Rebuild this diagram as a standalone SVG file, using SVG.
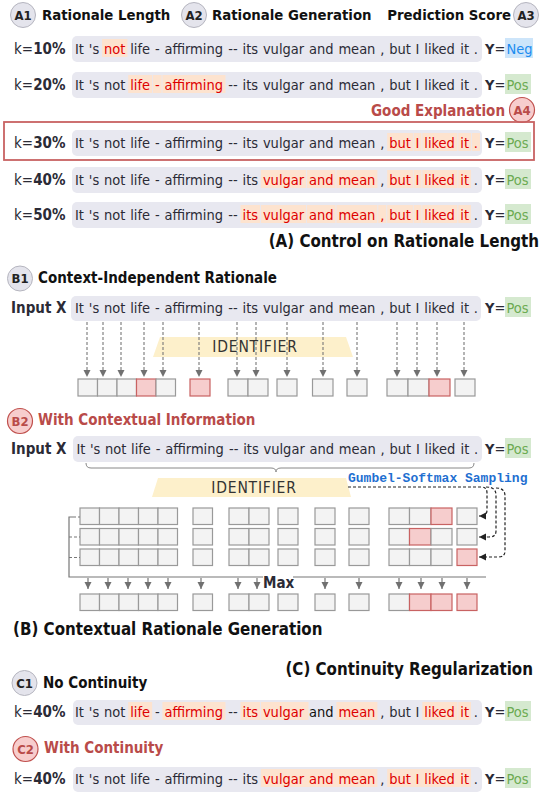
<svg xmlns="http://www.w3.org/2000/svg" width="551" height="796" viewBox="0 0 551 796">
<defs>
<style>
.f{font-family:'DejaVu Sans Condensed','DejaVu Sans',sans-serif;font-stretch:condensed}
.s{font-size:14.5px;fill:#2b2b36}
.k{font-size:15px;fill:#2b2b36}
.b{font-weight:bold}
.h{font-size:14.8px;font-weight:bold;fill:#111}
.ti{font-size:16.8px;font-weight:bold;fill:#111}
.red{fill:#b94b49}
.bx{fill:#e8e8f0}
.hl{fill:#fde3cf}
.rw{fill:#dd0000}
.pos{fill:#6cab52}
.posbg{fill:#d5e9cf}
.negbg{fill:#cde5fa}
.neg{fill:#1c8cf0}
.cg{fill:#e4e4ec;stroke:#b5b5bf;stroke-width:1}
.cp{fill:#f7cdcd;stroke:#c0504d;stroke-width:1.2}
.ct{font-size:13px;font-weight:bold;fill:#222;text-anchor:middle}
.ctr{font-size:13px;font-weight:bold;fill:#b94b49;text-anchor:middle}
.c{fill:#f3f3f3;stroke:#999;stroke-width:1.2}
.p{fill:#f6cdcd;stroke:#c86262;stroke-width:1.2}
.id{fill:#fdf0cb}
.idt{font-size:15.5px;fill:#333;letter-spacing:0.8px;text-anchor:middle}
.dg{fill:none;stroke:#777;stroke-width:1.1;stroke-dasharray:3 2}
.dk{fill:none;stroke:#222;stroke-width:1.2;stroke-dasharray:3 2}
.gl{fill:none;stroke:#777;stroke-width:1.2}
.gm{font-family:'Liberation Mono','DejaVu Sans Mono',monospace;font-weight:bold;font-size:13px;fill:#1f6fd1}
</style>
<marker id="ag" markerUnits="userSpaceOnUse" markerWidth="8" markerHeight="8" refX="7" refY="3.5" orient="auto"><path d="M0,0L7,3.5L0,7z" fill="#707070"/></marker>
<marker id="ak" markerUnits="userSpaceOnUse" markerWidth="8" markerHeight="8" refX="7" refY="3.5" orient="auto"><path d="M0,0L7,3.5L0,7z" fill="#222"/></marker>
</defs>
<rect width="551" height="796" fill="#fff"/>

<!-- Section A header -->
<g id="A1"><circle class="cg" cx="23" cy="15" r="12.5"/><text class="f ct" x="23" y="19.7">A1</text><text class="f h" x="42" y="20">Rationale Length</text></g>
<g id="A2"><circle class="cg" cx="194" cy="15" r="12.5"/><text class="f ct" x="194" y="19.7">A2</text><text class="f h" x="212" y="20">Rationale Generation</text></g>
<g id="A3"><circle class="cg" cx="526" cy="15" r="12.5"/><text class="f ct" x="526" y="19.7">A3</text><text class="f h" x="511" y="20" text-anchor="end">Prediction Score</text></g>

<g id="row-k10">
<text class="f k" x="14" y="54">k=<tspan class="b">10%</tspan></text>
<rect class="bx" x="72" y="36" width="410" height="26" rx="5"/>
<rect class="hl" x="102" y="39" width="25.4" height="18"/>
<text class="f s" y="54"><tspan x="75">It</tspan><tspan x="88.8">'s</tspan><tspan x="104" class="rw">not</tspan><tspan x="130.2">life</tspan><tspan x="154.9">-</tspan><tspan x="164.4">affirming</tspan><tspan x="228.3">--</tspan><tspan x="242.5">its</tspan><tspan x="262.9">vulgar</tspan><tspan x="309">and</tspan><tspan x="338.4">mean</tspan><tspan x="380.2">,</tspan><tspan x="389.2">but</tspan><tspan x="415.6">I</tspan><tspan x="424.3">liked</tspan><tspan x="460.3">it</tspan><tspan x="473.8">.</tspan></text>
<text class="f s" x="485" y="54"><tspan class="b">Y</tspan>=</text><rect class="negbg" x="505" y="38" width="28" height="20"/><text class="f s neg" x="506.5" y="54">Neg</text>
</g>

<g id="row-k20">
<text class="f k" x="14" y="90">k=<tspan class="b">20%</tspan></text>
<rect class="bx" x="72" y="72" width="410" height="26" rx="5"/>
<rect class="hl" x="128.2" y="75" width="23.9" height="18"/><rect class="hl" x="152.9" y="75" width="8.7" height="18"/><rect class="hl" x="162.4" y="75" width="63.1" height="18"/>
<text class="f s" y="90"><tspan x="75">It</tspan><tspan x="88.8">'s</tspan><tspan x="104">not</tspan><tspan x="130.2" class="rw">life</tspan><tspan x="154.9" class="rw">-</tspan><tspan x="164.4" class="rw">affirming</tspan><tspan x="228.3">--</tspan><tspan x="242.5">its</tspan><tspan x="262.9">vulgar</tspan><tspan x="309">and</tspan><tspan x="338.4">mean</tspan><tspan x="380.2">,</tspan><tspan x="389.2">but</tspan><tspan x="415.6">I</tspan><tspan x="424.3">liked</tspan><tspan x="460.3">it</tspan><tspan x="473.8">.</tspan></text>
<text class="f s" x="485" y="90"><tspan class="b">Y</tspan>=</text><rect class="posbg" x="505" y="74" width="26" height="20"/><text class="f s pos" x="506.5" y="90">Pos</text>
</g>

<g id="A4">
<text class="f b red" x="505" y="116" text-anchor="end" style="font-size:15px">Good Explanation</text>
<circle class="cp" cx="522" cy="110" r="12.5"/><text class="f ctr" x="522" y="114.7">A4</text>
<rect x="4" y="122" width="530" height="38" fill="none" stroke="#c86262" stroke-width="1.8"/>
</g>

<g id="row-k30">
<text class="f k" x="14" y="148">k=<tspan class="b">30%</tspan></text>
<rect class="bx" x="72" y="130" width="410" height="26" rx="5"/>
<rect class="hl" x="387.2" y="133" width="25.7" height="18"/><rect class="hl" x="413.6" y="133" width="7.9" height="18"/><rect class="hl" x="422.3" y="133" width="35.1" height="18"/><rect class="hl" x="458.3" y="133" width="12.7" height="18"/><rect class="hl" x="471.8" y="133" width="8.2" height="18"/>
<text class="f s" y="148"><tspan x="75">It</tspan><tspan x="88.8">'s</tspan><tspan x="104">not</tspan><tspan x="130.2">life</tspan><tspan x="154.9">-</tspan><tspan x="164.4">affirming</tspan><tspan x="228.3">--</tspan><tspan x="242.5">its</tspan><tspan x="262.9">vulgar</tspan><tspan x="309">and</tspan><tspan x="338.4">mean</tspan><tspan x="380.2">,</tspan><tspan x="389.2" class="rw">but</tspan><tspan x="415.6" class="rw">I</tspan><tspan x="424.3" class="rw">liked</tspan><tspan x="460.3" class="rw">it</tspan><tspan x="473.8" class="rw">.</tspan></text>
<text class="f s" x="485" y="148"><tspan class="b">Y</tspan>=</text><rect class="posbg" x="505" y="132" width="26" height="20"/><text class="f s pos" x="506.5" y="148">Pos</text>
</g>

<g id="row-k40">
<text class="f k" x="14" y="185">k=<tspan class="b">40%</tspan></text>
<rect class="bx" x="72" y="167" width="410" height="26" rx="5"/>
<rect class="hl" x="260.9" y="170" width="45.3" height="18"/><rect class="hl" x="307" y="170" width="28.5" height="18"/><rect class="hl" x="336.4" y="170" width="41" height="18"/><rect class="hl" x="387.2" y="170" width="25.7" height="18"/><rect class="hl" x="413.6" y="170" width="7.9" height="18"/><rect class="hl" x="422.3" y="170" width="35.1" height="18"/><rect class="hl" x="458.3" y="170" width="12.7" height="18"/>
<text class="f s" y="185"><tspan x="75">It</tspan><tspan x="88.8">'s</tspan><tspan x="104">not</tspan><tspan x="130.2">life</tspan><tspan x="154.9">-</tspan><tspan x="164.4">affirming</tspan><tspan x="228.3">--</tspan><tspan x="242.5">its</tspan><tspan x="262.9" class="rw">vulgar</tspan><tspan x="309" class="rw">and</tspan><tspan x="338.4" class="rw">mean</tspan><tspan x="380.2">,</tspan><tspan x="389.2" class="rw">but</tspan><tspan x="415.6" class="rw">I</tspan><tspan x="424.3" class="rw">liked</tspan><tspan x="460.3" class="rw">it</tspan><tspan x="473.8">.</tspan></text>
<text class="f s" x="485" y="185"><tspan class="b">Y</tspan>=</text><rect class="posbg" x="505" y="169" width="26" height="20"/><text class="f s pos" x="506.5" y="185">Pos</text>
</g>

<g id="row-k50">
<text class="f k" x="14" y="220">k=<tspan class="b">50%</tspan></text>
<rect class="bx" x="72" y="202" width="410" height="26" rx="5"/>
<rect class="hl" x="240.5" y="205" width="19.5" height="18"/><rect class="hl" x="260.9" y="205" width="45.3" height="18"/><rect class="hl" x="307" y="205" width="28.5" height="18"/><rect class="hl" x="336.4" y="205" width="41" height="18"/><rect class="hl" x="378.2" y="205" width="8.1" height="18"/><rect class="hl" x="387.2" y="205" width="25.7" height="18"/><rect class="hl" x="413.6" y="205" width="7.9" height="18"/><rect class="hl" x="422.3" y="205" width="35.1" height="18"/><rect class="hl" x="458.3" y="205" width="12.7" height="18"/>
<text class="f s" y="220"><tspan x="75">It</tspan><tspan x="88.8">'s</tspan><tspan x="104">not</tspan><tspan x="130.2">life</tspan><tspan x="154.9">-</tspan><tspan x="164.4">affirming</tspan><tspan x="228.3">--</tspan><tspan x="242.5" class="rw">its</tspan><tspan x="262.9" class="rw">vulgar</tspan><tspan x="309" class="rw">and</tspan><tspan x="338.4" class="rw">mean</tspan><tspan x="380.2" class="rw">,</tspan><tspan x="389.2" class="rw">but</tspan><tspan x="415.6" class="rw">I</tspan><tspan x="424.3" class="rw">liked</tspan><tspan x="460.3" class="rw">it</tspan><tspan x="473.8">.</tspan></text>
<text class="f s" x="485" y="220"><tspan class="b">Y</tspan>=</text><rect class="posbg" x="505" y="204" width="26" height="20"/><text class="f s pos" x="506.5" y="220">Pos</text>
</g>

<text id="titleA" class="f ti" x="539" y="247" text-anchor="end">(A) Control on Rationale Length</text>

<!-- Section B1 -->
<g id="B1"><circle class="cg" cx="20" cy="278.5" r="12.5"/><text class="f ct" x="20" y="283.2">B1</text><text class="f h" x="38" y="283" style="font-size:15px">Context-Independent Rationale</text></g>

<g id="B1-input">
<text class="f b k" x="11" y="313">Input X</text>
<rect class="bx" x="71" y="296" width="410" height="25" rx="5"/>
<text class="f s" y="313"><tspan x="75">It</tspan><tspan x="88.8">'s</tspan><tspan x="104">not</tspan><tspan x="130.2">life</tspan><tspan x="154.9">-</tspan><tspan x="164.4">affirming</tspan><tspan x="228.3">--</tspan><tspan x="242.5">its</tspan><tspan x="262.9">vulgar</tspan><tspan x="309">and</tspan><tspan x="338.4">mean</tspan><tspan x="380.2">,</tspan><tspan x="389.2">but</tspan><tspan x="415.6">I</tspan><tspan x="424.3">liked</tspan><tspan x="460.3">it</tspan><tspan x="473.8">.</tspan></text>
<text class="f s" x="485" y="313"><tspan class="b">Y</tspan>=</text><rect class="posbg" x="505" y="297" width="26" height="20"/><text class="f s pos" x="506.5" y="313">Pos</text>
</g>

<g id="B1-identifier"><polygon class="id" points="160,337 346,337 353,357 153,357"/><text class="f idt" x="255" y="352">IDENTIFIER</text></g>

<g id="B1-mask">
<rect class="c" x="78" y="379" width="19.5" height="17"/><rect class="c" x="97.5" y="379" width="19.5" height="17"/><rect class="c" x="117" y="379" width="19.5" height="17"/><rect class="p" x="136.5" y="379" width="19.5" height="17"/><rect class="c" x="156" y="379" width="19.5" height="17"/>
<rect class="p" x="190" y="379" width="20" height="17"/>
<rect class="c" x="228" y="379" width="20" height="17"/><rect class="c" x="248" y="379" width="20" height="17"/>
<rect class="c" x="277" y="379" width="20" height="17"/>
<rect class="c" x="312.5" y="379" width="20.5" height="17"/>
<rect class="c" x="347" y="379" width="20" height="17"/>
<rect class="c" x="387" y="379" width="21" height="17"/><rect class="c" x="408" y="379" width="21" height="17"/><rect class="p" x="429" y="379" width="21" height="17"/>
<rect class="c" x="455" y="379" width="20" height="17"/>
</g>

<!-- Section B2 -->
<g id="B2"><circle class="cp" cx="20" cy="421" r="12.5"/><text class="f ctr" x="20" y="425.7">B2</text><text class="f h red" x="38" y="425" style="font-size:15px">With Contextual Information</text></g>

<g id="B2-input">
<text class="f b k" x="11" y="454">Input X</text>
<rect class="bx" x="73" y="436" width="409" height="26" rx="5"/>
<text class="f s" y="454"><tspan x="76.5">It</tspan><tspan x="90">'s</tspan><tspan x="105">not</tspan><tspan x="131">life</tspan><tspan x="155.7">-</tspan><tspan x="165.2">affirming</tspan><tspan x="229">--</tspan><tspan x="243.2">its</tspan><tspan x="263.5">vulgar</tspan><tspan x="309.5">and</tspan><tspan x="338.8">mean</tspan><tspan x="380.6">,</tspan><tspan x="389.5">but</tspan><tspan x="415.9">I</tspan><tspan x="424.6">liked</tspan><tspan x="460.5">it</tspan><tspan x="474">.</tspan></text>
<text class="f s" x="485" y="454"><tspan class="b">Y</tspan>=</text><rect class="posbg" x="505" y="438" width="26" height="20"/><text class="f s pos" x="506.5" y="454">Pos</text>
</g>

<g id="B2-identifier"><polygon class="id" points="158,478 346,478 351,497 152,497"/><text class="f idt" x="254" y="493">IDENTIFIER</text></g>
<text id="gumbel" class="gm" x="348" y="482">Gumbel-Softmax Sampling</text>

<g id="B2-sample1">
<rect class="c" x="80" y="508" width="19.5" height="16.5"/><rect class="c" x="99.5" y="508" width="19.5" height="16.5"/><rect class="c" x="119" y="508" width="19.5" height="16.5"/><rect class="c" x="138.5" y="508" width="19.5" height="16.5"/><rect class="c" x="158" y="508" width="19.5" height="16.5"/>
<rect class="c" x="193" y="508" width="19.5" height="16.5"/><rect class="c" x="229" y="508" width="20" height="16.5"/><rect class="c" x="249" y="508" width="20" height="16.5"/><rect class="c" x="278" y="508" width="20" height="16.5"/><rect class="c" x="315" y="508" width="20" height="16.5"/><rect class="c" x="349" y="508" width="20" height="16.5"/>
<rect class="c" x="389" y="508" width="20.5" height="16.5"/><rect class="c" x="409.5" y="508" width="21.5" height="16.5"/><rect class="p" x="431" y="508" width="21" height="16.5"/><rect class="c" x="457" y="508" width="20" height="16.5"/>
</g>
<g id="B2-sample2">
<rect class="c" x="80" y="528.5" width="19.5" height="16.5"/><rect class="c" x="99.5" y="528.5" width="19.5" height="16.5"/><rect class="c" x="119" y="528.5" width="19.5" height="16.5"/><rect class="c" x="138.5" y="528.5" width="19.5" height="16.5"/><rect class="c" x="158" y="528.5" width="19.5" height="16.5"/>
<rect class="c" x="193" y="528.5" width="19.5" height="16.5"/><rect class="c" x="229" y="528.5" width="20" height="16.5"/><rect class="c" x="249" y="528.5" width="20" height="16.5"/><rect class="c" x="278" y="528.5" width="20" height="16.5"/><rect class="c" x="315" y="528.5" width="20" height="16.5"/><rect class="c" x="349" y="528.5" width="20" height="16.5"/>
<rect class="c" x="389" y="528.5" width="20.5" height="16.5"/><rect class="p" x="409.5" y="528.5" width="21.5" height="16.5"/><rect class="c" x="431" y="528.5" width="21" height="16.5"/><rect class="c" x="457" y="528.5" width="20" height="16.5"/>
</g>
<g id="B2-sample3">
<rect class="c" x="80" y="549" width="19.5" height="16.5"/><rect class="c" x="99.5" y="549" width="19.5" height="16.5"/><rect class="c" x="119" y="549" width="19.5" height="16.5"/><rect class="c" x="138.5" y="549" width="19.5" height="16.5"/><rect class="c" x="158" y="549" width="19.5" height="16.5"/>
<rect class="c" x="193" y="549" width="19.5" height="16.5"/><rect class="c" x="229" y="549" width="20" height="16.5"/><rect class="c" x="249" y="549" width="20" height="16.5"/><rect class="c" x="278" y="549" width="20" height="16.5"/><rect class="c" x="315" y="549" width="20" height="16.5"/><rect class="c" x="349" y="549" width="20" height="16.5"/>
<rect class="c" x="389" y="549" width="20.5" height="16.5"/><rect class="c" x="409.5" y="549" width="21.5" height="16.5"/><rect class="c" x="431" y="549" width="21" height="16.5"/><rect class="p" x="457" y="549" width="20" height="16.5"/>
</g>
<text id="max" class="f b k" x="263" y="588">Max</text>
<g id="B2-output">
<rect class="c" x="80" y="594" width="19.5" height="16.5"/><rect class="c" x="99.5" y="594" width="19.5" height="16.5"/><rect class="c" x="119" y="594" width="19.5" height="16.5"/><rect class="c" x="138.5" y="594" width="19.5" height="16.5"/><rect class="c" x="158" y="594" width="19.5" height="16.5"/>
<rect class="c" x="193" y="594" width="19.5" height="16.5"/><rect class="c" x="229" y="594" width="20" height="16.5"/><rect class="c" x="249" y="594" width="20" height="16.5"/><rect class="c" x="278" y="594" width="20" height="16.5"/><rect class="c" x="315" y="594" width="20" height="16.5"/><rect class="c" x="349" y="594" width="20" height="16.5"/>
<rect class="c" x="389" y="594" width="20.5" height="16.5"/><rect class="p" x="409.5" y="594" width="21.5" height="16.5"/><rect class="p" x="431" y="594" width="21" height="16.5"/><rect class="p" x="457" y="594" width="20" height="16.5"/>
</g>

<text id="titleB" class="f ti" x="13" y="635">(B) Contextual Rationale Generation</text>

<!-- connectors -->
<g id="connectors">
<g id="b1-arrows">
<path class="dg" d="M87,322V377" marker-end="url(#ag)"/><path class="dg" d="M103,322V377" marker-end="url(#ag)"/><path class="dg" d="M121,322V377" marker-end="url(#ag)"/><path class="dg" d="M144,322V377" marker-end="url(#ag)"/><path class="dg" d="M163,322V377" marker-end="url(#ag)"/><path class="dg" d="M199,322V377" marker-end="url(#ag)"/><path class="dg" d="M237,322V377" marker-end="url(#ag)"/><path class="dg" d="M256,322V377" marker-end="url(#ag)"/><path class="dg" d="M287,322V377" marker-end="url(#ag)"/><path class="dg" d="M323,322V377" marker-end="url(#ag)"/><path class="dg" d="M357,322V377" marker-end="url(#ag)"/><path class="dg" d="M397,322V377" marker-end="url(#ag)"/><path class="dg" d="M417,322V377" marker-end="url(#ag)"/><path class="dg" d="M437,322V377" marker-end="url(#ag)"/><path class="dg" d="M464,322V377" marker-end="url(#ag)"/>
</g>
<path id="brace" d="M86,463Q86,468 91,468H271Q276,468 276,472Q276,468 281,468H469Q474,468 474,463" fill="none" stroke="#888" stroke-width="1"/>
<g id="gumbel-arrows">
<path class="dk" d="M348,487H481Q487,487 487,493V510Q487,516 481,516H479" marker-end="url(#ak)"/>
<path class="dk" d="M486,487Q496,487 496,495V531Q496,537 489,537H479" marker-end="url(#ak)"/>
<path class="dk" d="M496,488Q505,488 505,496V551Q505,557 498,557H479" marker-end="url(#ak)"/>
</g>
<g id="max-bracket">
<path class="gl" d="M73,517H69V577H263"/><path class="gl" d="M293,577H486"/>
<path class="dg" d="M73,517H80M69,537H80M69,557.5H80"/>
</g>
<g id="max-arrows">
<path class="gl" d="M88,578V589" marker-end="url(#ag)"/><path class="gl" d="M108,578V589" marker-end="url(#ag)"/><path class="gl" d="M128,578V589" marker-end="url(#ag)"/><path class="gl" d="M148,578V589" marker-end="url(#ag)"/><path class="gl" d="M168,578V589" marker-end="url(#ag)"/><path class="gl" d="M201,578V589" marker-end="url(#ag)"/><path class="gl" d="M238,578V589" marker-end="url(#ag)"/><path class="gl" d="M257,578V589" marker-end="url(#ag)"/><path class="gl" d="M325,578V589" marker-end="url(#ag)"/><path class="gl" d="M359,578V589" marker-end="url(#ag)"/><path class="gl" d="M399,578V589" marker-end="url(#ag)"/><path class="gl" d="M421,578V589" marker-end="url(#ag)"/><path class="gl" d="M442,578V589" marker-end="url(#ag)"/><path class="gl" d="M467,578V589" marker-end="url(#ag)"/>
</g>
</g>

<!-- Section C -->
<text id="titleC" class="f ti" x="533" y="675" text-anchor="end">(C) Continuity Regularization</text>
<g id="C1"><circle class="cg" cx="24.5" cy="683" r="12.5"/><text class="f ct" x="24.5" y="687.7">C1</text><text class="f h" x="43" y="688" style="font-size:15px">No Continuity</text></g>

<g id="row-c1">
<text class="f k" x="14" y="717">k=<tspan class="b">40%</tspan></text>
<rect class="bx" x="73" y="700" width="409" height="25" rx="5"/>
<rect class="hl" x="128.2" y="702" width="23.9" height="18"/><rect class="hl" x="162.4" y="702" width="63.1" height="18"/><rect class="hl" x="240.5" y="702" width="19.5" height="18"/><rect class="hl" x="260.9" y="702" width="47.6" height="18"/><rect class="hl" x="336.4" y="702" width="41" height="18"/><rect class="hl" x="422.3" y="702" width="35.1" height="18"/><rect class="hl" x="458.3" y="702" width="12.7" height="18"/>
<text class="f s" y="717"><tspan x="75">It</tspan><tspan x="88.8">'s</tspan><tspan x="104">not</tspan><tspan x="130.2" class="rw">life</tspan><tspan x="154.9">-</tspan><tspan x="164.4" class="rw">affirming</tspan><tspan x="228.3">--</tspan><tspan x="242.5" class="rw">its</tspan><tspan x="262.9" class="rw">vulgar</tspan><tspan x="309" style="fill:#111">and</tspan><tspan x="338.4" class="rw">mean</tspan><tspan x="380.2">,</tspan><tspan x="389.2">but</tspan><tspan x="415.6">I</tspan><tspan x="424.3" class="rw">liked</tspan><tspan x="460.3" class="rw">it</tspan><tspan x="473.8">.</tspan></text>
<text class="f s" x="485" y="717"><tspan class="b">Y</tspan>=</text><rect class="posbg" x="505" y="701" width="26" height="20"/><text class="f s pos" x="506.5" y="717">Pos</text>
</g>

<g id="C2"><circle class="cp" cx="25.5" cy="749" r="12.5"/><text class="f ctr" x="25.5" y="753.7">C2</text><text class="f h red" x="44" y="753" style="font-size:15px">With Continuity</text></g>

<g id="row-c2">
<text class="f k" x="14" y="784">k=<tspan class="b">40%</tspan></text>
<rect class="bx" x="73" y="767" width="409" height="25" rx="5"/>
<rect class="hl" x="260.9" y="769" width="116.5" height="18"/><rect class="hl" x="387.2" y="769" width="83.8" height="18"/>
<text class="f s" y="784"><tspan x="75">It</tspan><tspan x="88.8">'s</tspan><tspan x="104">not</tspan><tspan x="130.2">life</tspan><tspan x="154.9">-</tspan><tspan x="164.4">affirming</tspan><tspan x="228.3">--</tspan><tspan x="242.5">its</tspan><tspan x="262.9" class="rw">vulgar</tspan><tspan x="309" class="rw">and</tspan><tspan x="338.4" class="rw">mean</tspan><tspan x="380.2">,</tspan><tspan x="389.2" class="rw">but</tspan><tspan x="415.6" class="rw">I</tspan><tspan x="424.3" class="rw">liked</tspan><tspan x="460.3" class="rw">it</tspan><tspan x="473.8">.</tspan></text>
<text class="f s" x="485" y="784"><tspan class="b">Y</tspan>=</text><rect class="posbg" x="505" y="768" width="26" height="20"/><text class="f s pos" x="506.5" y="784">Pos</text>
</g>
</svg>
